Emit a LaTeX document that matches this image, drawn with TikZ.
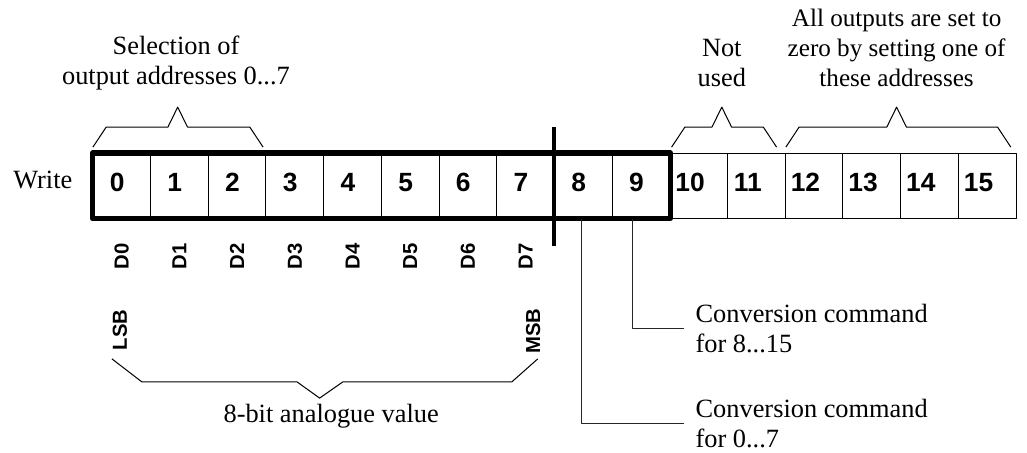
\documentclass[tikz,border=0pt]{standalone}
\usepackage{fontspec}
\setmainfont{Liberation Serif}
\setsansfont{Liberation Sans}
\usetikzlibrary{calc,positioning}
\tikzset{
  cell/.style={draw,line width=0.5pt,minimum width=1cm,minimum height=1.12cm,inner sep=0pt},
  num/.style={font=\sffamily\bfseries\fontsize{13}{13}\selectfont,inner sep=0pt},
  dlab/.style={font=\sffamily\bfseries\fontsize{10}{10}\selectfont,rotate=90,inner sep=0pt},
  txt/.style={font=\fontsize{13}{14.8}\selectfont,align=center,inner sep=0pt},
  cmd/.style={txt,align=left,anchor=west,inner xsep=0.2cm},
  lead/.style={line width=0.5pt,black!85},
  brc/.style={line width=0.5pt},
}
\begin{document}
\begin{tikzpicture}[line join=round]
\useasboundingbox (-1.61,-4.06) rectangle (16.19,3.78);
% --- register with its 16 addresses
\foreach \i in {0,...,15}{
  \node[cell] (c\i) at (\i+0.5,0.56) {};
  \pgfmathsetmacro\dx{\i<10 ? -0.08 : -0.15}
  \node[num] (n\i) at ([xshift=\dx cm,yshift=0.06cm]c\i.center) {\i};
}
\draw[line width=2.5pt] (c0.south west) rectangle (c9.north east);
\coordinate (divtop) at (8,1.58); \coordinate (divbot) at (8,-0.49);
\draw[line width=2pt] (divtop) -- (divbot);
\node[txt,anchor=base east] (write) at (-0.35,0.52) {Write};
% --- data bits below
\foreach \i in {0,...,7} \node[dlab] (d\i) at (\i+0.5,-0.66) {D\i};
\node[dlab] (lsb) at (0.47,-1.94) {LSB};
\node[dlab] (msb) at (7.63,-1.96) {MSB};
\draw[brc] (0.33,-2.44) -- (0.85,-2.84) -- (3.54,-2.84) -- (3.93,-3.12) -- (4.33,-2.84) -- (7.26,-2.84) -- (7.71,-2.44);
\coordinate (bapex) at (3.93,-3.12);
\node[txt,anchor=base] (value) at ($(bapex)+(0.2,-0.43)$) {8-bit analogue value};
% --- braces above
\foreach \a/\m/\b in {0/1.47/2.95,10.03/10.9/11.85,12.01/13.93/15.91}
  \draw[brc] (\a,1.23) -- ++(0.23,0.347) -- (\m-0.17,1.577) -- (\m,1.924) -- (\m+0.17,1.577) -- (\b-0.23,1.577) -- (\b,1.23);
\coordinate (apex1) at (1.47,1.924);
\coordinate (apex2) at (10.9,1.924);
\coordinate (apex3) at (13.93,1.924);
\node[txt,above=0.28cm of apex1,xshift=-0.03cm] (sel) {Selection of\\output addresses 0...7};
\node[txt,above=0.35cm of apex2] (unused) {Not\\used};
\node[txt,above=0.35cm of apex3,font=\fontsize{12.4}{14.8}\selectfont] (zero) {All outputs are set to\\zero by setting one of\\these addresses};
% --- conversion commands
\node[cmd] (cmd8) at (10.24,-1.906) {Conversion command\\for 8...15};
\node[cmd] (cmd0) at (10.24,-3.56) {Conversion command\\for 0...7};
\draw[lead] ([xshift=-0.14cm]c9.south) |- (cmd8.west);
\draw[lead] ([xshift=-0.03cm]c8.south) |- (cmd0.west);
\end{tikzpicture}
\end{document}
